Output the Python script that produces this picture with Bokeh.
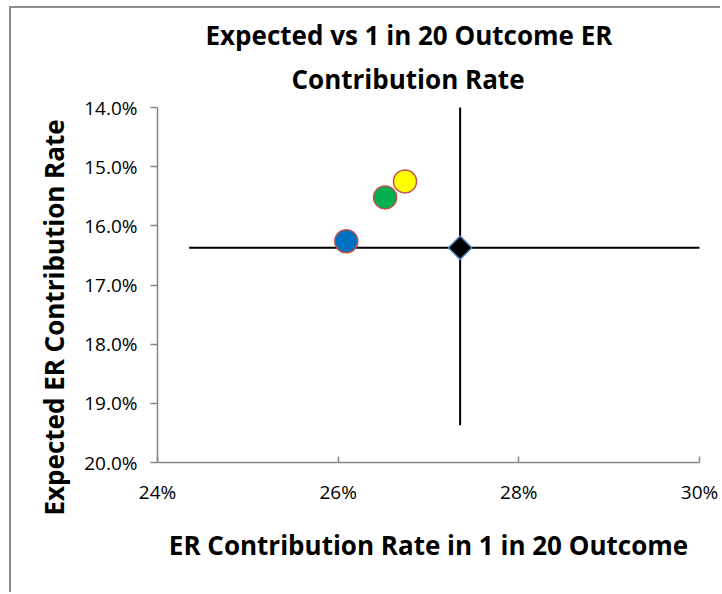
import math
from bokeh.plotting import figure
from bokeh.models import Range1d, FixedTicker, Title, ColumnDataSource
from bokeh.embed import file_html
from bokeh.resources import INLINE

# ---- data ----
x_vals = [26.09, 26.52, 26.74]          # ER contribution rate in 1 in 20 outcome (%)
y_vals = [16.26, 15.52, 15.25]          # expected ER contribution rate (%)
point_colors = ["#0070C0", "#00B050", "#FFFF00"]

bench_x = [27.35]
bench_y = [16.37]
bench_err = [3.0]

x_ticks = [24, 26, 28, 30]
x_tick_labels = ["24%", "26%", "28%", "30%"]
y_ticks = [14, 15, 16, 17, 18, 19, 20]
y_tick_labels = ["14.0%", "15.0%", "16.0%", "17.0%", "18.0%", "19.0%", "20.0%"]

title_lines = ["Expected vs 1 in 20 Outcome ER", "Contribution Rate"]
x_title = "ER Contribution Rate in 1 in 20 Outcome"
y_title = "Expected ER Contribution Rate"

FONT = "Open Sans"
AXIS_GREY = "#868686"

p = figure(width=711, height=586, output_backend="svg", toolbar_location=None,
           x_range=Range1d(x_ticks[0], x_ticks[-1]),
           y_range=Range1d(y_ticks[-1], y_ticks[0]),
           min_border_left=146, min_border_right=23, min_border_top=99, min_border_bottom=132)
p.title = None
p.outline_line_color = None
p.grid.visible = False
p.background_fill_color = "white"
p.border_fill_color = "white"
p.styles = {"border-left": "2px solid #8c8c8c", "border-top": "2px solid #8c8c8c",
            "margin-left": "9px", "margin-top": "6px"}

# titles (second line added first so it sits nearest the plot)
p.add_layout(Title(text=title_lines[1], align="left", offset=134, text_font=FONT, text_font_size="26px",
                   text_font_style="bold", text_color="black", standoff=17, vertical_align="top"), "above")
p.add_layout(Title(text=title_lines[0], align="left", offset=48, text_font=FONT, text_font_size="26px",
                   text_font_style="bold", text_color="black", standoff=0, vertical_align="bottom"), "above")

# x axis
xa = p.xaxis[0]
xa.ticker = FixedTicker(ticks=x_ticks)
xa.major_label_overrides = {t: l for t, l in zip(x_ticks, x_tick_labels)}
xa.minor_tick_line_color = None
xa.major_tick_in = 6
xa.major_tick_out = 0
xa.major_label_standoff = 16
xa.axis_line_color = AXIS_GREY
xa.axis_line_width = 1.5
xa.major_tick_line_color = AXIS_GREY
xa.major_tick_line_width = 1.5
xa.major_label_text_font = FONT
xa.major_label_text_font_size = "19px"
xa.major_label_text_color = "black"
xa.axis_label = x_title
xa.axis_label_text_font = FONT
xa.axis_label_text_font_size = "26px"
xa.axis_label_text_font_style = "bold"
xa.axis_label_text_color = "black"
xa.axis_label_standoff = 19

# y axis
ya = p.yaxis[0]
ya.ticker = FixedTicker(ticks=y_ticks)
ya.major_label_overrides = {t: l for t, l in zip(y_ticks, y_tick_labels)}
ya.minor_tick_line_color = None
ya.major_tick_in = 0
ya.major_tick_out = 7
ya.major_label_standoff = 13
ya.axis_line_color = AXIS_GREY
ya.axis_line_width = 1.5
ya.major_tick_line_color = AXIS_GREY
ya.major_tick_line_width = 1.5
ya.major_label_text_font = FONT
ya.major_label_text_font_size = "19px"
ya.major_label_text_color = "black"

# y title (as a side title so it can sit lower than the plot centre)
p.add_layout(Title(text=y_title, align="left", offset=-53, text_font=FONT, text_font_size="26px",
                   text_font_style="bold", text_color="black", standoff=17, vertical_align="middle"), "left")

# benchmark error bars (crosshair)
bx0 = [x - e for x, e in zip(bench_x, bench_err)]
bx1 = [x + e for x, e in zip(bench_x, bench_err)]
by0 = [y - e for y, e in zip(bench_y, bench_err)]
by1 = [y + e for y, e in zip(bench_y, bench_err)]
p.segment(x0=bx0, y0=bench_y, x1=bx1, y1=bench_y, line_color="black", line_width=2)
p.segment(x0=bench_x, y0=by0, x1=bench_x, y1=by1, line_color="black", line_width=2)

# benchmark marker (diamond)
p.scatter(x=bench_x, y=bench_y, marker="square", size=16.5, angle=math.pi / 4,
          fill_color="black", line_color="#4F81BD", line_width=1.5)

# scenario points
src = ColumnDataSource(dict(x=x_vals, y=y_vals, c=point_colors))
p.scatter(x="x", y="y", source=src, marker="circle", size=23,
          fill_color="c", line_color="#C0504D", line_width=1.5)

open("out.html", "w").write(file_html(p, INLINE))
